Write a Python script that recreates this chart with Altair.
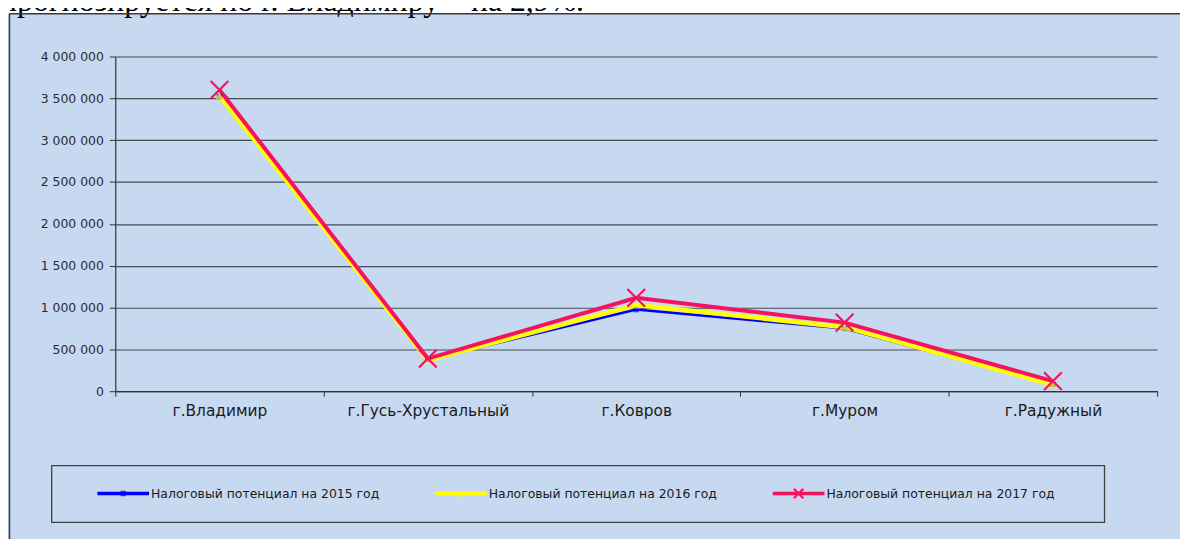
import altair as alt
import pandas as pd

header_text = "прогнозируется по г. Владимиру – на 2,9%."
cities = ["г.Владимир", "г.Гусь-Хрустальный", "г.Ковров", "г.Муром", "г.Радужный"]
series = [
    "Налоговый потенциал на 2015 год",
    "Налоговый потенциал на 2016 год",
    "Налоговый потенциал на 2017 год",
]
v2015 = [3520000, 375000, 975000, 750000, 80000]
v2016 = [3530000, 370000, 1030000, 765000, 75000]
v2017 = [3600000, 390000, 1115000, 820000, 120000]
y_ticks = [0, 500000, 1000000, 1500000, 2000000, 2500000, 3000000, 3500000, 4000000]

colors = ["#0000FF", "#FFFF00", "#F7125F"]
widths = [2.5, 4.5, 4]
XPATH = "M-1,-1L1,1M1,-1L-1,1"

rows = []
for s, vals in zip(series, [v2015, v2016, v2017]):
    for c, v in zip(cities, vals):
        rows.append({"city": c, "series": s, "value": v})
df = pd.DataFrame(rows)
leg = pd.DataFrame({"series": series, "i": list(range(len(series)))})

W, H = 1049, 337
BG = "#C6D9F1"
FONT = "DejaVu Sans"

x_enc = alt.X(
    "city:N", sort=cities, title=None,
    scale=alt.Scale(type="band", paddingInner=0, paddingOuter=0, domain=cities),
    axis=alt.Axis(tickBand="extent", labelAngle=0, labelFontSize=15.5, labelColor="#1a1a1a",
                  labelFont=FONT, labelPadding=7, tickSize=5, tickColor="#333333",
                  domainColor="#333333", domainWidth=1.2, grid=False, labelLimit=300),
)
y_enc = alt.Y(
    "value:Q", title=None,
    scale=alt.Scale(domain=[0, 4000000], nice=False),
    axis=alt.Axis(values=y_ticks, labelExpr="replace(format(datum.value, ','), regexp(',', 'g'), ' ')",
                  labelFontSize=12.5, labelColor="#2a2a2a", labelFont=FONT, labelPadding=6,
                  tickSize=6, tickColor="#333333", domainColor="#333333", domainWidth=1.2,
                  grid=True, gridColor="#464d55", gridWidth=1.2),
)

one = pd.DataFrame({"a": [0]})

white_strip = alt.Chart(one).mark_rect(color="white").encode(
    x=alt.value(-112), x2=alt.value(W + 30), y=alt.value(-50), y2=alt.value(-43.5)
)
header = alt.Chart(pd.DataFrame({"t": [header_text]})).mark_text(
    align="left", baseline="alphabetic", font="Liberation Serif", fontSize=32, color="black"
).encode(x=alt.value(-116), y=alt.value(-46), text="t:N")
border_v = alt.Chart(one).mark_rule(color="#3a3a3a", strokeWidth=1.5).encode(
    x=alt.value(-106.5), y=alt.value(-43), y2=alt.value(H + 150)
)
border_h = alt.Chart(one).mark_rule(color="#3a3a3a", strokeWidth=1.5).encode(
    x=alt.value(-106.5), x2=alt.value(W + 30), y=alt.value(-43)
)
legend_box = alt.Chart(one).mark_rect(fillOpacity=0, stroke="#404040", strokeWidth=1.3).encode(
    x=alt.value(-64), x2=alt.value(996), y=alt.value(412), y2=alt.value(469)
)

layers = [white_strip, header, border_v, border_h, legend_box]

for s, col, w in zip(series, colors, widths):
    layers.append(
        alt.Chart(df).transform_filter(alt.datum.series == s)
        .mark_line(color=col, strokeWidth=w)
        .encode(x=x_enc, y=y_enc)
    )

marker_specs = [
    dict(shape="square", filled=True, size=30, color=colors[0]),
    dict(shape="triangle-up", filled=True, size=70, color=colors[1]),
    dict(shape=XPATH, filled=False, size=320, color=colors[2], strokeWidth=2.2, opacity=1),
]
for s, spec in zip(series, marker_specs):
    layers.append(
        alt.Chart(df).transform_filter(alt.datum.series == s)
        .mark_point(**spec)
        .encode(x=x_enc, y=y_enc)
    )

legend_sizes = [30, 45, 90]
for k, (s, col) in enumerate(zip(series, colors)):
    base = alt.Chart(leg).transform_filter(alt.datum.series == s).transform_calculate(
        x0="datum.i*340-18", x1="datum.i*340+34", xm="datum.i*340+8", xt="datum.i*340+36"
    )
    layers.append(
        base.mark_rule(color=col, strokeWidth=3.5).encode(
            x=alt.X("x0:Q", scale=None, axis=None), x2="x1:Q", y=alt.value(440)
        )
    )
    spec = dict(marker_specs[k])
    spec["size"] = legend_sizes[k]
    layers.append(
        base.mark_point(**spec).encode(x=alt.X("xm:Q", scale=None, axis=None), y=alt.value(440))
    )
    layers.append(
        base.mark_text(align="left", baseline="middle", fontSize=12.5, font=FONT, color="#1a1a1a").encode(
            x=alt.X("xt:Q", scale=None, axis=None), y=alt.value(441), text="series:N"
        )
    )

chart = alt.layer(*layers).properties(
    width=W, height=H,
    autosize=alt.AutoSizeParams(type="none"),
    padding={"left": 108, "top": 47, "right": 23, "bottom": 147},
    background=BG,
).configure_view(strokeWidth=0)

chart.save("out.html", embed_options={"renderer": "svg", "actions": False})
